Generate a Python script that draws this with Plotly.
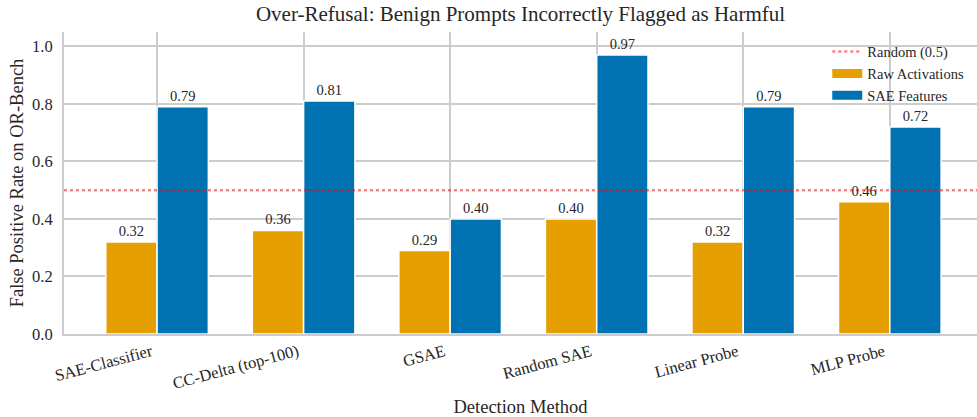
import plotly.graph_objects as go

categories = ["SAE-Classifier", "CC-Delta (top-100)", "GSAE", "Random SAE", "Linear Probe", "MLP Probe"]
raw_activations = [0.32, 0.36, 0.29, 0.40, 0.32, 0.46]
sae_features = [0.79, 0.81, 0.40, 0.97, 0.79, 0.72]
random_baseline = 0.5
y_ticks = [0.0, 0.2, 0.4, 0.6, 0.8, 1.0]

FONT = "Liberation Serif, Times New Roman, serif"
TXT = "#262626"
ORANGE = "#E69F00"
BLUE = "#0072B2"
RED = "rgba(255,0,0,0.5)"

fig = go.Figure()
# legend entries
fig.add_trace(go.Scatter(x=[categories[0]], y=[None], mode="lines", name="Random (0.5)",
                         line=dict(color=RED, width=2.5, dash="dot")))
fig.add_trace(go.Scatter(x=[categories[0]], y=[None], mode="lines", name="Raw Activations",
                         line=dict(color=ORANGE, width=9)))
fig.add_trace(go.Scatter(x=[categories[0]], y=[None], mode="lines", name="SAE Features",
                         line=dict(color=BLUE, width=9)))
fig.add_trace(go.Bar(
    x=categories, y=raw_activations, name="Raw Activations", showlegend=False,
    marker=dict(color=ORANGE, line=dict(color="white", width=1.5)),
    texttemplate="%{y:.2f}", textposition="outside",
    textfont=dict(size=14.5, color=TXT, family=FONT), cliponaxis=False,
))
fig.add_trace(go.Bar(
    x=categories, y=sae_features, name="SAE Features", showlegend=False,
    marker=dict(color=BLUE, line=dict(color="white", width=1.5)),
    texttemplate="%{y:.2f}", textposition="outside",
    textfont=dict(size=14.5, color=TXT, family=FONT), cliponaxis=False,
))
fig.add_hline(y=random_baseline, line=dict(color=RED, width=2.5, dash="dot"), layer="above")

fig.update_layout(
    width=977, height=417,
    margin=dict(l=64, r=0, t=32, b=83, autoexpand=False),
    paper_bgcolor="white", plot_bgcolor="white",
    font=dict(family=FONT, color=TXT, size=16.5),
    title=dict(text="Over-Refusal: Benign Prompts Incorrectly Flagged as Harmful",
               x=(64 + 977) / 2 / 977, xanchor="center", y=(417 - 14) / 417, yanchor="middle",
               font=dict(size=21, color=TXT, family=FONT)),
    barmode="group", bargap=0.3, bargroupgap=0.0,
    showlegend=True,
    legend=dict(x=0.836, y=0.988, xanchor="left", yanchor="top",
                bgcolor="rgba(255,255,255,0)", font=dict(size=14.5, color=TXT, family=FONT),
                tracegroupgap=0, itemwidth=30),
)
fig.update_xaxes(
    type="category", range=[-0.635, 5.595], showgrid=True, gridcolor="#cccccc", gridwidth=1.5,
    showline=True, linecolor="#cccccc", linewidth=2, ticks="", tickangle=-15,
    tickfont=dict(size=16.5, color=TXT, family=FONT), automargin=False, ticklabelshift=-6,
    title=dict(text="Detection Method", font=dict(size=18.5, color=TXT, family=FONT), standoff=8),
    zeroline=False,
)
fig.update_yaxes(
    range=[0, 1.05], tickvals=y_ticks, ticktext=[f"{v:.1f}" for v in y_ticks],
    showgrid=True, gridcolor="#cccccc", gridwidth=1.5, automargin=False,
    showline=True, linecolor="#cccccc", linewidth=2, ticks="", zeroline=False,
    tickfont=dict(size=16.5, color=TXT, family=FONT), ticklabelstandoff=6,
    title=dict(text="False Positive Rate on OR-Bench", font=dict(size=18.5, color=TXT, family=FONT), standoff=4),
)

fig.write_html("out.html", config={"displayModeBar": False},
               post_script="document.body.style.margin='0';")
